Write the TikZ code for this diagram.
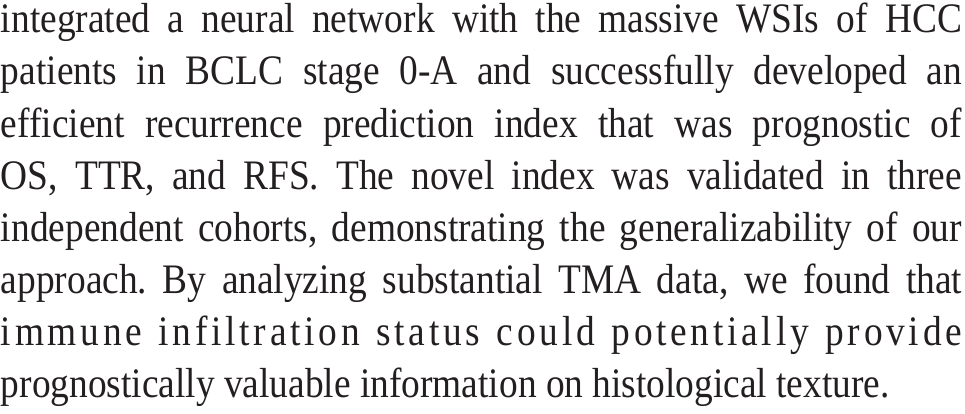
\documentclass[tikz,border=0pt]{standalone}
\usepackage{fontspec}
\setmainfont{Liberation Serif}
\newfontfamily\spacedfont[LetterSpace=10]{Liberation Serif}
\definecolor{inkc}{HTML}{231F20}
\newlength{\natw}
\setlength{\natw}{1079.78pt}% 961pt / 0.89
\newcommand{\jline}[1]{\scalebox{0.89}[1]{\makebox[\natw][s]{#1}}}
\newcommand{\fline}[1]{\scalebox{0.89}[1]{#1}}
\frenchspacing
\begin{document}
\begin{tikzpicture}[x=1pt,y=1pt,
  txtline/.style={anchor=base west,inner sep=0pt,outer sep=0pt,text=inkc,font=\fontsize{42}{46}\selectfont}]
\useasboundingbox (0,0) rectangle (965,413);
\node[txtline] (l1) at (1,380) {\jline{integrated a neural network with the massive WSIs of HCC}};
\node[txtline] (l2) at (1,328) {\jline{patients in BCLC stage 0-A and successfully developed an}};
\node[txtline] (l3) at (1,276) {\jline{efficient recurrence prediction index that was prognostic of}};
\node[txtline] (l4) at (1,224) {\jline{OS, TTR, and RFS. The novel index was validated in three}};
\node[txtline] (l5) at (1,172) {\jline{independent cohorts, demonstrating the generalizability of our}};
\node[txtline] (l6) at (1,120) {\jline{approach. By analyzing substantial TMA data, we found that}};
\node[txtline] (l7) at (1,68) {\jline{\spacedfont immune infiltration status could potentially provide}};
\node[txtline] (l8) at (1,16) {\fline{prognostically valuable information on histological texture.}};
\end{tikzpicture}
\end{document}
